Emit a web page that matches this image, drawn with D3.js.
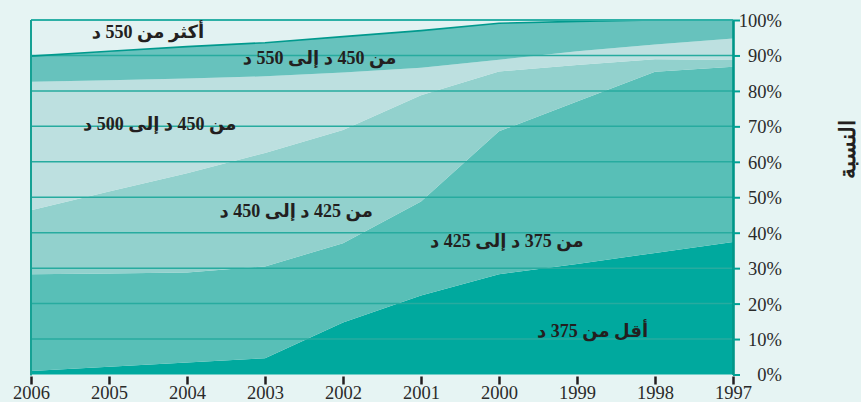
<!DOCTYPE html>
<html>
<head>
<meta charset="utf-8">
<script src="https://cdn.jsdelivr.net/npm/d3@7"></script>
<style>
  html, body { margin: 0; padding: 0; background: #e6f4f3; }
  svg { display: block; }
</style>
</head>
<body>
<svg id="chart" width="861" height="402"></svg>
<script>
// ---- data ----
const years = [2006, 2005, 2004, 2003, 2002, 2001, 2000, 1999, 1998, 1997];
const seriesNames = ["أقل من 375 د", "من 375 د إلى 425 د", "من 425 د إلى 450 د", "من 450 د إلى 500 د", "من 450 د إلى 550 د", "أكثر من 550 د"];
const below375   = [1.0, 2.2, 3.4, 4.6, 14.7, 22.3, 28.3, 31.2, 34.3, 37.4];
const from375    = [27.3, 26.3, 25.4, 25.9, 22.3, 26.5, 40.3, 45.8, 51.1, 49.4];
const from425    = [18.0, 23.1, 28.0, 32.0, 32.0, 30.0, 16.9, 10.3, 3.5, 1.9];
const from450    = [36.3, 31.4, 26.7, 21.6, 16.2, 7.7, 3.3, 3.9, 4.2, 6.1];
const from500    = [7.2, 8.2, 9.0, 9.5, 10.1, 10.5, 10.3, 8.4, 6.9, 5.2];
const above550   = [10.2, 8.8, 7.5, 6.4, 4.7, 3.0, 0.9, 0.4, 0.0, 0.0];
const yTicks = [0, 10, 20, 30, 40, 50, 60, 70, 80, 90, 100];
const yTitle = "النسبة";

const seriesValues = [below375, from375, from425, from450, from500, above550];
const colors = ["#00a99e", "#58bfb7", "#92d1cd", "#bde0e0", "#67c2bd", "#e2f2f2"];

// table for stack
const table = years.map((yr, i) => {
  const row = { year: yr };
  seriesNames.forEach((n, k) => row[k] = seriesValues[k][i]);
  return row;
});
const keys = seriesNames.map((n, k) => k);
const stacked = d3.stack().keys(keys)(table);

const svg = d3.select("#chart");
const x = d3.scalePoint().domain(years).range([31, 733]);
const y = d3.scaleLinear().domain([0, 100]).range([374.5, 20]);

const area = d3.area()
  .x(d => x(d.data.year))
  .y0(d => y(d[0]))
  .y1(d => y(d[1]));

svg.append("g").selectAll("path")
  .data(stacked)
  .join("path")
  .attr("d", area)
  .attr("fill", (d, i) => colors[i]);

// gridlines
svg.append("g").selectAll("line")
  .data(yTicks.filter(t => t > 0 && t < 100))
  .join("line")
  .attr("x1", 31).attr("x2", 733)
  .attr("y1", d => y(d)).attr("y2", d => y(d))
  .attr("stroke", "#27ab9f")
  .attr("stroke-width", 1.5);

// top line of the 500-550 band
const topLine = d3.line()
  .x(d => x(d.data.year))
  .y(d => y(d[1]));
svg.append("path")
  .attr("d", topLine(stacked[4]))
  .attr("fill", "none")
  .attr("stroke", "#00998d")
  .attr("stroke-width", 1.6);

// frame: top and left
svg.append("line").attr("x1", 31).attr("x2", 733).attr("y1", y(100)).attr("y2", y(100))
  .attr("stroke", "#2db0a6").attr("stroke-width", 1.8);
svg.append("line").attr("x1", 31).attr("x2", 31).attr("y1", y(100)).attr("y2", y(0) + 1)
  .attr("stroke", "#16a194").attr("stroke-width", 2);

// right axis
const yAxis = d3.axisRight(y).tickValues(yTicks).tickSize(7).tickSizeOuter(0)
  .tickFormat(d => d + "%");
const gy = svg.append("g").attr("transform", "translate(733,0)").call(yAxis);
gy.select(".domain").attr("stroke", "#009688").attr("stroke-width", 2.6);
gy.selectAll(".tick line").attr("stroke", "#00a194").attr("stroke-width", 2);
gy.selectAll(".tick text")
  .attr("x", 49).attr("text-anchor", "end").attr("dy", "0.35em")
  .attr("fill", "#2a2a2a")
  .style("font-family", "'Liberation Serif', 'Times New Roman', serif")
  .style("font-size", "18.5px");

// bottom axis
const xAxis = d3.axisBottom(x).tickSize(8).tickSizeOuter(0);
const gx = svg.append("g").attr("transform", "translate(0,376.5)").call(xAxis);
gx.select(".domain").remove();
gx.selectAll(".tick line").attr("stroke", "#231f20").attr("stroke-width", 2.5);
gx.selectAll(".tick text")
  .attr("y", 22).attr("dy", 0)
  .attr("fill", "#2a2a2a")
  .style("font-family", "'Liberation Serif', 'Times New Roman', serif")
  .style("font-size", "18.5px");

// y title
svg.append("text")
  .attr("transform", "translate(847,149) rotate(-90)")
  .attr("text-anchor", "middle")
  .attr("dy", "0.35em")
  .attr("fill", "#231f20")
  .style("font-family", "'DejaVu Serif', 'Liberation Serif', serif")
  .style("font-weight", "bold")
  .style("font-size", "22px")
  .text(yTitle);

// series labels
const labelPos = [
  { i: 0, year: 1998.8, v: 12.3 },
  { i: 1, year: 1999.9, v: 37.8 },
  { i: 2, year: 2002.6, v: 46.3 },
  { i: 3, year: 2004.35, v: 70.8 },
  { i: 4, year: 2002.3, v: 89.5 },
  { i: 5, year: 2004.5, v: 96.7 }
];
const xl = d3.scaleLinear().domain([2006, 1997]).range([31, 733]);
svg.append("g").selectAll("text")
  .data(labelPos)
  .join("text")
  .attr("x", d => xl(d.year))
  .attr("y", d => y(d.v))
  .attr("text-anchor", "middle")
  .attr("dy", "0.35em")
  .attr("direction", "rtl")
  .attr("fill", "#231f20")
  .style("font-family", "'Liberation Serif', 'DejaVu Sans', serif")
  .style("font-weight", "bold")
  .style("font-size", "18px")
  .text(d => seriesNames[d.i]);
</script>
</body>
</html>
